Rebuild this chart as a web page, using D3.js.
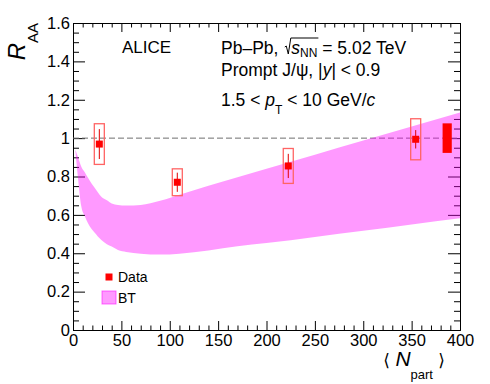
<!DOCTYPE html>
<html>
<head>
<meta charset="utf-8">
<script src="https://cdn.jsdelivr.net/npm/d3@7"></script>
<style>
  body { margin: 0; background: #fff; }
  svg text { font-family: "Liberation Sans", Arial, Helvetica, sans-serif; fill: #000; white-space: pre; }
</style>
</head>
<body>
<svg id="chart" width="490" height="384"></svg>
<script>
// data points
const npart = [27.2, 107.8, 222.5, 354.2];
const raa = [0.969, 0.770, 0.855, 0.994];
const statErr = [0.078, 0.050, 0.063, 0.048];
const systErr = [0.106, 0.070, 0.091, 0.107];
// global (correlated) uncertainty box at R = 1
const globalErr = 0.077;
const globalN = [382, 391.5];

// BT model band
const bandN = [2.5, 5, 8.6, 12, 15.5, 19, 22, 29.3, 35, 40, 46.5, 55, 70, 90, 110, 140, 170, 200, 250, 300, 350, 400];
const bandHi = [0.94, 0.904, 0.851, 0.823, 0.793, 0.765, 0.744, 0.695, 0.676, 0.659, 0.652, 0.649, 0.652, 0.673, 0.705, 0.752, 0.796, 0.840, 0.914, 0.988, 1.060, 1.133];
const bandLo = [0.93, 0.80, 0.643, 0.595, 0.556, 0.528, 0.51, 0.469, 0.447, 0.435, 0.417, 0.407, 0.398, 0.393, 0.398, 0.414, 0.436, 0.453, 0.485, 0.517, 0.550, 0.582];

const xMajor = [0, 50, 100, 150, 200, 250, 300, 350, 400];
const yMajor = [0, 0.2, 0.4, 0.6, 0.8, 1.0, 1.2, 1.4, 1.6];

const svg = d3.select("#chart");
const margin = {top: 23, right: 30, bottom: 54, left: 73};
const width = 490 - margin.left - margin.right;
const height = 384 - margin.top - margin.bottom;

const x = d3.scaleLinear().domain([0, 400]).range([0, width]);
const y = d3.scaleLinear().domain([0, 1.6]).range([height, 0]);

const g = svg.append("g")
    .attr("transform", "translate(" + margin.left + "," + margin.top + ")");

const xMinor = d3.range(0, 401, 10).filter(d => d % 50 != 0);
const yMinor = d3.range(0, 33).map(d => d * 0.05).filter((d, i) => i % 4 != 0);
const fmt = d => String(Math.round(d * 10) / 10);

function styleAxis(sel) {
    sel.selectAll("path").attr("stroke", "#000").attr("stroke-width", 1);
    sel.selectAll("line").attr("stroke", "#000").attr("stroke-width", 1);
    sel.attr("font-family", null).attr("font-size", null);
}

// bottom axis
g.append("g")
    .attr("transform", "translate(0," + height + ")")
    .call(d3.axisBottom(x).tickValues(xMajor).tickSizeInner(-9).tickSizeOuter(0).tickPadding(4).tickFormat(fmt))
    .call(styleAxis)
    .selectAll("text").style("font-size", "16.5px");
g.append("g")
    .attr("transform", "translate(0," + height + ")")
    .call(d3.axisBottom(x).tickValues(xMinor).tickSizeInner(-4.5).tickSizeOuter(0).tickFormat(""))
    .call(styleAxis);
// top axis
g.append("g")
    .call(d3.axisTop(x).tickValues(xMajor).tickSizeInner(-9).tickSizeOuter(0).tickFormat(""))
    .call(styleAxis);
g.append("g")
    .call(d3.axisTop(x).tickValues(xMinor).tickSizeInner(-4.5).tickSizeOuter(0).tickFormat(""))
    .call(styleAxis);
// left axis
g.append("g")
    .call(d3.axisLeft(y).tickValues(yMajor).tickSizeInner(-12).tickSizeOuter(0).tickPadding(3).tickFormat(fmt))
    .call(styleAxis)
    .selectAll("text").style("font-size", "16.5px");
g.append("g")
    .call(d3.axisLeft(y).tickValues(yMinor).tickSizeInner(-6).tickSizeOuter(0).tickFormat(""))
    .call(styleAxis);
// right axis
g.append("g")
    .attr("transform", "translate(" + width + ",0)")
    .call(d3.axisRight(y).tickValues(yMajor).tickSizeInner(-12).tickSizeOuter(0).tickFormat(""))
    .call(styleAxis);
g.append("g")
    .attr("transform", "translate(" + width + ",0)")
    .call(d3.axisRight(y).tickValues(yMinor).tickSizeInner(-6).tickSizeOuter(0).tickFormat(""))
    .call(styleAxis);

// R = 1 reference
g.append("line")
    .attr("x1", 0).attr("x2", width)
    .attr("y1", y(1)).attr("y2", y(1))
    .attr("stroke", "#6e6e6e").attr("stroke-width", 1)
    .attr("stroke-dasharray", "6,3");

// BT band
const band = bandN.map((n, i) => ({n: n, lo: bandLo[i], hi: bandHi[i]}));
const area = d3.area()
    .x(d => x(d.n))
    .y0(d => y(d.lo))
    .y1(d => y(d.hi))
    .curve(d3.curveMonotoneX);
g.append("path")
    .datum(band)
    .attr("d", area)
    .attr("fill", "#ff00ff")
    .attr("fill-opacity", 0.4);

// global uncertainty
g.append("rect")
    .attr("x", x(globalN[0]))
    .attr("width", x(globalN[1]) - x(globalN[0]))
    .attr("y", y(1 + globalErr))
    .attr("height", y(1 - globalErr) - y(1 + globalErr))
    .attr("fill", "#ff0000");

// data points
const pts = npart.map((n, i) => ({n: n, r: raa[i], stat: statErr[i], syst: systErr[i]}));
const pg = g.selectAll(".pt").data(pts).enter().append("g").attr("class", "pt");
pg.append("rect")
    .attr("x", d => x(d.n) - 5)
    .attr("width", 10)
    .attr("y", d => y(d.r + d.syst))
    .attr("height", d => y(d.r - d.syst) - y(d.r + d.syst))
    .attr("fill", "none")
    .attr("stroke", "#ff6464")
    .attr("stroke-width", 1.3);
pg.append("line")
    .attr("x1", d => x(d.n)).attr("x2", d => x(d.n))
    .attr("y1", d => y(d.r + d.stat)).attr("y2", d => y(d.r - d.stat))
    .attr("stroke", "#e00000").attr("stroke-width", 1);
pg.append("rect")
    .attr("x", d => x(d.n) - 3.5)
    .attr("y", d => y(d.r) - 3.5)
    .attr("width", 7).attr("height", 7)
    .attr("fill", "#ff0000");

// rich text helper: pieces laid out one after another
function rich(parent, x0, y0, pieces) {
    let cx = x0;
    const spans = [];
    pieces.forEach(p => {
        if (p.gap) { spans.push({x: cx, w: p.gap}); cx += p.gap; return; }
        const t = parent.append("text")
            .attr("x", cx)
            .attr("y", y0 + (p.dy || 0))
            .style("font-size", p.size + "px")
            .style("font-style", p.italic ? "italic" : "normal")
            .text(p.t);
        const w = t.node().getComputedTextLength();
        spans.push({x: cx, w: w});
        cx += w;
    });
    return spans;
}

const fs = 17.5;
rich(svg, 122, 53, [{t: "ALICE", size: 17}]);
const l1 = rich(svg, 221, 54, [
    {t: "Pb\u2013Pb, ", size: fs},
    {gap: 8},
    {t: "s", size: fs, italic: true},
    {t: "NN", size: 12, dy: 3},
    {t: " = 5.02 TeV", size: fs}
]);
// square root sign
{
    const sx = l1[1].x + l1[1].w, ex = l1[3].x + l1[3].w + 1;
    const b = 54;
    svg.append("path")
        .attr("d", "M" + (sx - 6.5) + "," + (b - 7) + " L" + (sx - 5) + "," + (b - 8) +
            " L" + (sx - 3) + "," + b + " L" + (sx - 0.5) + "," + (b - 16) + " L" + ex + "," + (b - 16))
        .attr("fill", "none").attr("stroke", "#000").attr("stroke-width", 1);
}
rich(svg, 221, 76, [
    {t: "Prompt J/\u03c8, |", size: fs},
    {t: "y", size: fs, italic: true},
    {t: "| < 0.9", size: fs}
]);
rich(svg, 221, 106, [
    {t: "1.5 < ", size: fs},
    {t: "p", size: fs, italic: true},
    {t: "T", size: 12, dy: 8},
    {t: " < 10 GeV/", size: fs},
    {t: "c", size: fs, italic: true}
]);

// y title
const yt = svg.append("text")
    .attr("transform", "translate(25,23) rotate(-90)")
    .attr("text-anchor", "end");
yt.append("tspan").style("font-size", "24px").style("font-style", "italic").text("R");
yt.append("tspan").style("font-size", "15px").attr("dy", 13).text("AA");

// x title
const xt = svg.append("text")
    .attr("x", 445).attr("y", 366)
    .attr("text-anchor", "end");
xt.append("tspan").style("font-size", "17px").style("font-family", "DejaVu Sans").text("\u27e8 ");
xt.append("tspan").style("font-size", "21px").style("font-style", "italic").text("N");
xt.append("tspan").style("font-size", "13px").attr("dy", 13).text("part");
xt.append("tspan").style("font-size", "17px").style("font-family", "DejaVu Sans").attr("dy", -13).text(" \u27e9");

// legend
const leg = svg.append("g");
leg.append("rect")
    .attr("x", 105.5).attr("y", 273.5).attr("width", 7).attr("height", 7)
    .attr("fill", "#ff0000");
leg.append("text").attr("x", 118).attr("y", 281.5).style("font-size", "14px").text("Data");
leg.append("rect")
    .attr("x", 102).attr("y", 291).attr("width", 14).attr("height", 13)
    .attr("fill", "#ff00ff").attr("fill-opacity", 0.4)
    .attr("stroke", "#ff00ff").attr("stroke-opacity", 0.55);
leg.append("text").attr("x", 118).attr("y", 303).style("font-size", "14px").text("BT");
</script>
</body>
</html>
